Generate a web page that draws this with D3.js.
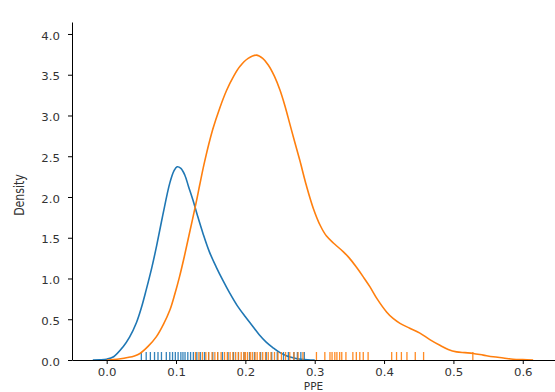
<!DOCTYPE html>
<html>
<head>
<meta charset="utf-8">
<script src="https://cdn.jsdelivr.net/npm/d3@7"></script>
<style>
  body { margin: 0; background: #fff; }
  svg { display: block; }
  text { font-family: "DejaVu Sans", sans-serif; fill: #333; }
</style>
</head>
<body>
<svg id="chart" width="555" height="392"></svg>
<script>
// kde curve of group 1 (PPE value, density)
var blueX = [-0.02, -0.01, 0, 0.01, 0.0235, 0.033, 0.043, 0.05, 0.057, 0.065, 0.072, 0.081, 0.091, 0.097, 0.1015,
    0.107, 0.1126, 0.118, 0.1245, 0.131, 0.139, 0.148, 0.158, 0.168, 0.1775, 0.188, 0.2, 0.21, 0.22, 0.23,
    0.24, 0.25, 0.26, 0.27, 0.28, 0.29, 0.30];
var blueY = [0, 0.002, 0.01, 0.04, 0.16, 0.28, 0.46, 0.64, 0.86, 1.13, 1.4, 1.78, 2.17, 2.32, 2.37,
    2.35, 2.27, 2.13, 1.96, 1.77, 1.55, 1.33, 1.14, 0.97, 0.82, 0.67, 0.53, 0.42, 0.31, 0.22,
    0.15, 0.09, 0.05, 0.025, 0.01, 0.003, 0];

// kde curve of group 2
var orangeX = [0.0, 0.01, 0.02, 0.03, 0.04, 0.048, 0.06, 0.072, 0.082, 0.091, 0.098, 0.105, 0.112, 0.12, 0.129,
    0.1342, 0.1414, 0.153, 0.163, 0.173, 0.183, 0.192, 0.204, 0.216, 0.225, 0.233, 0.242, 0.25, 0.257, 0.264,
    0.271, 0.2785, 0.288, 0.298, 0.308, 0.317, 0.329, 0.341, 0.35, 0.36, 0.37, 0.3795, 0.39, 0.4036, 0.413,
    0.423, 0.437, 0.4517, 0.466, 0.4805, 0.4925, 0.5046, 0.5166, 0.5286, 0.543, 0.5574, 0.572, 0.586, 0.60, 0.615];
var orangeY = [0, 0.005, 0.015, 0.03, 0.05, 0.08, 0.17, 0.29, 0.44, 0.61, 0.8, 1.02, 1.27, 1.58, 1.93,
    2.15, 2.44, 2.83, 3.09, 3.31, 3.48, 3.6, 3.7, 3.74, 3.7, 3.62, 3.48, 3.31, 3.12, 2.9,
    2.68, 2.45, 2.14, 1.86, 1.65, 1.52, 1.42, 1.33, 1.25, 1.14, 1.02, 0.9, 0.75, 0.59, 0.51,
    0.45, 0.39, 0.33, 0.25, 0.18, 0.13, 0.1, 0.09, 0.08, 0.06, 0.04, 0.025, 0.01, 0.004, 0];

// raw observations shown as rug ticks
var blueRug = [0.05, 0.057, 0.063, 0.069, 0.074, 0.079, 0.086, 0.091, 0.095, 0.099, 0.103, 0.107, 0.110, 0.113,
    0.117, 0.121, 0.125, 0.13, 0.135, 0.141, 0.147, 0.153, 0.16, 0.167, 0.175, 0.183, 0.19, 0.198, 0.206,
    0.213, 0.222, 0.23, 0.238, 0.246, 0.255, 0.262, 0.27, 0.275, 0.28, 0.285];
var orangeRug = [0.128, 0.133, 0.138, 0.143, 0.147, 0.152, 0.156, 0.16, 0.165, 0.17, 0.174, 0.178, 0.182, 0.186,
    0.19, 0.194, 0.198, 0.2, 0.203, 0.207, 0.21, 0.214, 0.217, 0.221, 0.225, 0.229, 0.233, 0.237, 0.242,
    0.247, 0.252, 0.258, 0.264, 0.27, 0.276, 0.283, 0.3025, 0.3146, 0.322, 0.325, 0.329, 0.332, 0.336,
    0.339, 0.345, 0.355, 0.36, 0.365, 0.37, 0.377, 0.411, 0.418, 0.425, 0.433, 0.445, 0.457, 0.528];

var xTicks = [0.0, 0.1, 0.2, 0.3, 0.4, 0.5, 0.6];
var yTicks = [0.0, 0.5, 1.0, 1.5, 2.0, 2.5, 3.0, 3.5, 4.0];

const stretch = 1.12;   // text is drawn slightly wide
const svg = d3.select('#chart');

var x = d3.scaleLinear().domain([-0.05, 0.6465]).range([72, 555]);
var y = d3.scaleLinear().domain([0, 4.147]).range([360, 22]);

function drawKde(xs, ys, color) {
    var pts = xs.map((v, i) => [v, ys[i]]);
    var line = d3.line()
        .x(d => x(d[0]))
        .y(d => y(d[1]))
        .curve(d3.curveCatmullRom.alpha(0.5));
    svg.append('path')
        .datum(pts)
        .attr('fill', 'none')
        .attr('stroke', color)
        .attr('stroke-width', 1.6)
        .attr('d', line);
}

function drawRug(vals, color) {
    svg.append('g').selectAll('line')
        .data(vals)
        .enter()
        .append('line')
        .attr('x1', d => x(d))
        .attr('x2', d => x(d))
        .attr('y1', y(0))
        .attr('y2', y(0) - 8)
        .attr('stroke', color)
        .attr('stroke-width', 1.3)
        .attr('opacity', 0.9);
}

drawKde(blueX, blueY, '#1f77b4');
drawRug(blueRug, '#1f77b4');
drawKde(orangeX, orangeY, '#ff7f0e');
drawRug(orangeRug, '#ff7f0e');

// axes (left + bottom spines only)
var xAxis = svg.append('g')
    .attr('transform', `translate(0,${y(0)})`)
    .call(d3.axisBottom(x).tickValues(xTicks).tickFormat(d3.format('.1f')).tickSize(4).tickSizeOuter(0));
var yAxis = svg.append('g')
    .attr('transform', `translate(${x(-0.05)},0)`)
    .call(d3.axisLeft(y).tickValues(yTicks).tickFormat(d3.format('.1f')).tickSize(4).tickSizeOuter(0));

[xAxis, yAxis].forEach(g => {
    g.select('.domain').attr('stroke', '#000').attr('stroke-width', 1);
    g.selectAll('.tick line').attr('stroke', '#000').attr('stroke-width', 1);
    g.selectAll('.tick text')
        .attr('fill', '#333')
        .style('font-family', '"DejaVu Sans", sans-serif')
        .attr('font-size', 10.5);
});
xAxis.selectAll('.tick text')
    .attr('y', 8.5)
    .attr('transform', `scale(${stretch},1)`);
yAxis.selectAll('.tick text')
    .attr('x', -12 / stretch)
    .attr('dy', '0.5em')
    .attr('transform', `scale(${stretch},1)`);

svg.append('text')
    .attr('transform', `translate(19,195) scale(1.2,1) rotate(-90)`)
    .attr('text-anchor', 'middle')
    .attr('font-size', 11)
    .attr('dy', '0.35em')
    .text('Density');

svg.append('text')
    .attr('transform', `translate(${(72 + 555) / 2},390) scale(1.05,1)`)
    .attr('text-anchor', 'middle')
    .attr('font-size', 10)
    .text('PPE');
</script>
</body>
</html>
